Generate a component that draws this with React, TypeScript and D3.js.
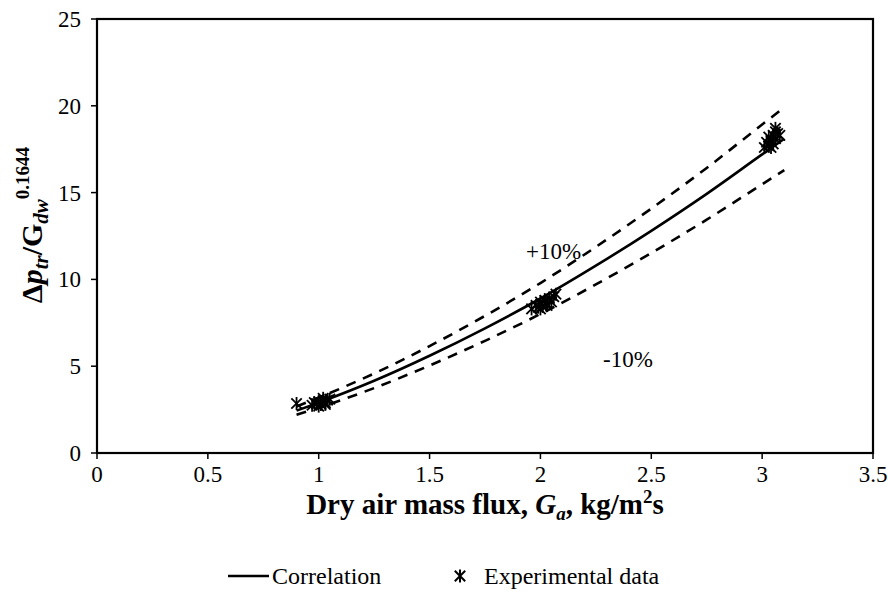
import React from "react";
import * as d3 from "d3";

const xTicks = [0, 0.5, 1, 1.5, 2, 2.5, 3, 3.5];
const yTicks = [0, 5, 10, 15, 20, 25];

const corrX = [0.9, 1.0, 1.25, 1.5, 1.75, 2.0, 2.25, 2.5, 2.75, 3.0, 3.1];
const corrY = [2.44, 2.9, 4.16, 5.6, 7.18, 8.9, 10.79, 12.8, 14.93, 17.2, 18.1];
const upperY = [2.68, 3.19, 4.58, 6.16, 7.9, 9.79, 11.87, 14.08, 16.42, 18.92, 19.91];
const lowerY = [2.2, 2.61, 3.74, 5.04, 6.46, 8.01, 9.71, 11.52, 13.44, 15.48, 16.29];

const expX = [
  0.9, 0.97, 0.98, 0.99, 1.0, 1.01, 1.02, 1.02, 1.03, 1.04, 1.05, 1.0, 1.03,
  1.96, 1.98, 1.99, 2.0, 2.01, 2.02, 2.03, 2.04, 2.05, 2.06, 2.07, 2.0, 2.03,
  3.01, 3.02, 3.03, 3.03, 3.04, 3.05, 3.05, 3.06, 3.06, 3.07, 3.08, 3.04, 3.06,
];
const expY = [
  2.85, 2.75, 2.9, 2.85, 2.95, 2.8, 3.0, 3.15, 2.9, 3.05, 3.1, 2.7, 2.8,
  8.3, 8.5, 8.4, 8.7, 8.45, 8.8, 8.6, 8.9, 8.7, 9.0, 9.15, 8.3, 8.5,
  17.6, 17.9, 17.7, 18.2, 18.0, 18.3, 17.8, 18.5, 18.1, 18.4, 18.3, 17.6, 18.7,
];

const W = 888;
const H = 610;
const m = { left: 97, right: 873, top: 19, bottom: 453 };
const FONT = "'Liberation Serif', 'Times New Roman', serif";

function Star({ cx, cy, r = 6.5, w = 1.8 }: { cx: number; cy: number; r?: number; w?: number }) {
  const d = r * 0.8;
  return (
    <g stroke="#000" strokeWidth={w}>
      <line x1={cx - d} y1={cy - d} x2={cx + d} y2={cy + d} />
      <line x1={cx - d} y1={cy + d} x2={cx + d} y2={cy - d} />
      <line x1={cx} y1={cy - r} x2={cx} y2={cy + r} />
    </g>
  );
}

export default function App() {
  const x = d3.scaleLinear().domain([0, 3.5]).range([m.left, m.right]);
  const y = d3.scaleLinear().domain([0, 25]).range([m.bottom, m.top]);

  const mk = (ys: number[]) =>
    d3
      .line<number>()
      .x((_, i) => x(corrX[i]))
      .y((v) => y(v))
      .curve(d3.curveMonotoneX)(ys) || "";

  return (
    <svg
      width={W}
      height={H}
      style={{ position: "absolute", left: 0, top: 0, background: "#fff" }}
      fontFamily={FONT}
    >
      <rect x={0} y={0} width={W} height={H} fill="#fff" />
      <rect
        x={m.left}
        y={m.top}
        width={m.right - m.left}
        height={m.bottom - m.top}
        fill="none"
        stroke="#000"
        strokeWidth={2.2}
      />
      {xTicks.map((t) => (
        <g key={"x" + t}>
          <line x1={x(t)} x2={x(t)} y1={m.bottom} y2={m.bottom + 6} stroke="#000" strokeWidth={1.5} />
          <text x={x(t)} y={m.bottom + 29} fontSize={23} textAnchor="middle">
            {t}
          </text>
        </g>
      ))}
      {yTicks.map((t) => (
        <g key={"y" + t}>
          <line x1={m.left - 6} x2={m.left} y1={y(t)} y2={y(t)} stroke="#000" strokeWidth={1.5} />
          <text x={m.left - 16} y={y(t) + 8} fontSize={23} textAnchor="end">
            {t}
          </text>
        </g>
      ))}
      <path d={mk(upperY)} fill="none" stroke="#000" strokeWidth={2.6} strokeDasharray="10 8" />
      <path d={mk(lowerY)} fill="none" stroke="#000" strokeWidth={2.6} strokeDasharray="10 8" />
      <path d={mk(corrY)} fill="none" stroke="#000" strokeWidth={2.6} />
      {expX.map((v, i) => (
        <Star key={i} cx={x(v)} cy={y(expY[i])} />
      ))}
      <text x={526} y={259} fontSize={23}>+10%</text>
      <text x={603} y={367} fontSize={23}>-10%</text>
      <text x={485} y={514} fontSize={29} fontWeight="bold" textAnchor="middle">
        Dry air mass flux,{" "}
        <tspan fontStyle="italic">G</tspan>
        <tspan fontStyle="italic" fontSize={19} dy={6}>a</tspan>
        <tspan dy={-6}>, kg/m</tspan>
        <tspan fontSize={19} dy={-11}>2</tspan>
        <tspan dy={11}>s</tspan>
      </text>
      <text
        transform="translate(42,225) rotate(-90)"
        fontSize={30}
        fontWeight="bold"
        textAnchor="middle"
      >
        Δ<tspan fontStyle="italic">p</tspan>
        <tspan fontStyle="italic" fontSize={21} dy={6}>tr</tspan>
        <tspan dy={-6}>/G</tspan>
        <tspan fontStyle="italic" fontSize={21} dy={6}>dw</tspan>
        <tspan fontSize={19} dy={-19}>0.1644</tspan>
      </text>
      <line x1={228} x2={269} y1={576} y2={576} stroke="#000" strokeWidth={2.6} />
      <text x={272} y={584} fontSize={24}>Correlation</text>
      <Star cx={460} cy={576} r={6.5} w={2} />
      <text x={484} y={584} fontSize={24}>Experimental data</text>
    </svg>
  );
}
